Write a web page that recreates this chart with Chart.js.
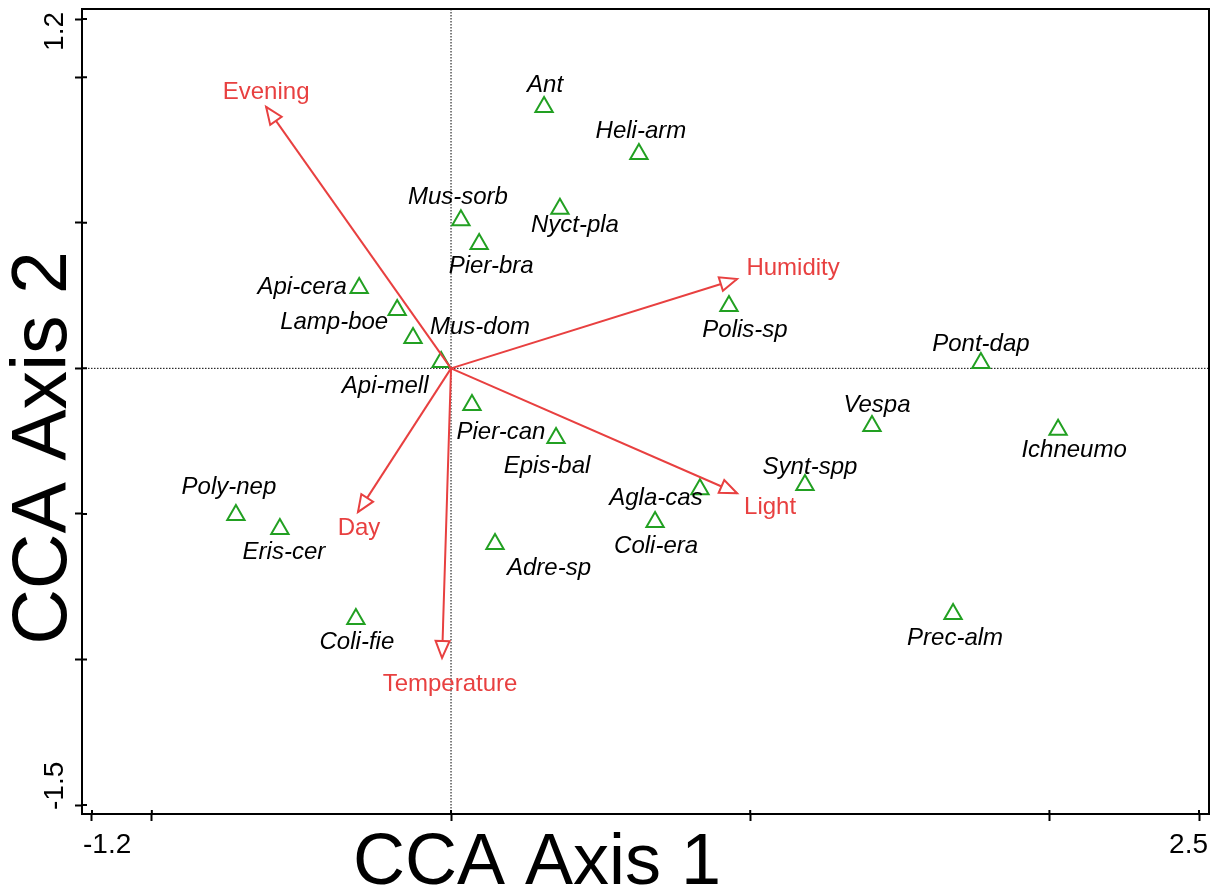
<!DOCTYPE html>
<html>
<head>
<meta charset="utf-8">
<title>CCA biplot</title>
<script src="https://cdn.jsdelivr.net/npm/chart.js@4.4.1/dist/chart.umd.min.js"></script>
<style>
  html, body { margin: 0; padding: 0; background: #fff; }
  #wrap { width: 1214px; height: 890px; }
</style>
</head>
<body>
<div id="wrap"><canvas id="ccaChart"></canvas></div>
<script>
// species scores
const speciesNames = ['Ant', 'Heli-arm', 'Mus-sorb', 'Nyct-pla', 'Pier-bra', 'Api-cera', 'Lamp-boe', 'Mus-dom',
    'Api-mell', 'Polis-sp', 'Pont-dap', 'Vespa', 'Ichneumo', 'Pier-can', 'Epis-bal', 'Synt-spp', 'Agla-cas',
    'Coli-era', 'Poly-nep', 'Eris-cer', 'Adre-sp', 'Coli-fie', 'Prec-alm'];
const speciesAxis1 = [0.311, 0.628, 0.033, 0.364, 0.094, -0.307, -0.180, -0.127, -0.033, 0.929, 1.771, 1.407,
    2.029, 0.070, 0.351, 1.183, 0.832, 0.682, -0.719, -0.572, 0.147, -0.318, 1.678];
const speciesAxis2 = [0.898, 0.736, 0.509, 0.548, 0.427, 0.276, 0.200, 0.104, 0.022, 0.214, 0.018, -0.198,
    -0.211, -0.126, -0.239, -0.401, -0.415, -0.528, -0.504, -0.552, -0.603, -0.861, -0.844];

// environmental vectors
const envNames = ['Evening', 'Humidity', 'Light', 'Day', 'Temperature'];
const envAxis1 = [-0.618, 0.956, 0.956, -0.311, -0.030];
const envAxis2 = [0.898, 0.307, -0.429, -0.494, -0.995];

// axis ticks
const xTicks = [-1.2, -1, 0, 1, 2, 2.5];
const yTicks = [-1.5, -1, -0.5, 0, 0.5, 1, 1.2];
const xTickLabels = ['-1.2', '2.5'];
const yTickLabels = ['1.2', '-1.5'];

const RED = 'rgb(232,64,64)';
const GREEN = 'rgb(34,160,34)';
const FONT = "'Liberation Sans', Arial, sans-serif";

// label placement around each mark (pixels)
const speciesLabelOffsets = [[1, -22], [2, -23], [-3, -23], [15, 17], [12, 22], [-57, -1], [-63, 12], [67, -11],
    [-56, 24], [16, 24], [0, -19], [5, -21], [16, 21], [29, 27], [-9, 28], [5, -18], [-44, 9], [1, 24],
    [-7, -28], [4, 23], [54, 24], [1, 23], [2, 24]];
const envLabelOffsets = [[0, -15], [56, -11], [33, 14], [1, 16], [8, 26]];

const arrowDatasets = envNames.map((name, i) => ({
    label: name,
    data: [{x: 0, y: 0}, {x: envAxis1[i], y: envAxis2[i]}],
    showLine: true,
    borderColor: RED,
    borderWidth: 2,
    pointRadius: 0
}));

const speciesDataset = {
    label: 'Species',
    data: speciesNames.map((n, i) => ({x: speciesAxis1[i], y: speciesAxis2[i]})),
    pointStyle: 'triangle',
    radius: 10,
    borderColor: GREEN,
    backgroundColor: 'rgba(0,0,0,0)',
    borderWidth: 2
};

const ccaDecor = {
    id: 'ccaDecor',
    beforeDatasetsDraw(chart) {
        const {ctx, chartArea: a, scales: {x, y}} = chart;
        const x0 = x.getPixelForValue(0);
        const y0 = y.getPixelForValue(0);
        ctx.save();
        ctx.strokeStyle = '#000';
        ctx.lineWidth = 1;
        ctx.setLineDash([1.5, 1.5]);
        ctx.beginPath();
        ctx.moveTo(x0, a.top);
        ctx.lineTo(x0, a.bottom);
        ctx.moveTo(a.left, y0);
        ctx.lineTo(a.right, y0);
        ctx.stroke();
        ctx.restore();
    },
    afterDatasetsDraw(chart) {
        const {ctx, scales: {x, y}} = chart;
        const ox = x.getPixelForValue(0);
        const oy = y.getPixelForValue(0);
        ctx.save();

        // open arrowheads
        ctx.strokeStyle = RED;
        ctx.fillStyle = '#fff';
        ctx.lineWidth = 2;
        envNames.forEach((name, i) => {
            const tx = x.getPixelForValue(envAxis1[i]);
            const ty = y.getPixelForValue(envAxis2[i]);
            const ang = Math.atan2(ty - oy, tx - ox);
            const bx = tx - 17 * Math.cos(ang);
            const by = ty - 17 * Math.sin(ang);
            const px = -Math.sin(ang) * 7;
            const py = Math.cos(ang) * 7;
            ctx.beginPath();
            ctx.moveTo(tx, ty);
            ctx.lineTo(bx + px, by + py);
            ctx.lineTo(bx - px, by - py);
            ctx.closePath();
            ctx.fill();
            ctx.stroke();
        });

        ctx.textAlign = 'center';
        ctx.textBaseline = 'middle';

        ctx.fillStyle = RED;
        ctx.font = '24px ' + FONT;
        envNames.forEach((name, i) => {
            const tx = x.getPixelForValue(envAxis1[i]);
            const ty = y.getPixelForValue(envAxis2[i]);
            ctx.fillText(name, tx + envLabelOffsets[i][0], ty + envLabelOffsets[i][1]);
        });

        ctx.fillStyle = '#000';
        ctx.font = 'italic 24px ' + FONT;
        speciesNames.forEach((name, i) => {
            const px = x.getPixelForValue(speciesAxis1[i]);
            const py = y.getPixelForValue(speciesAxis2[i]);
            ctx.fillText(name, px + speciesLabelOffsets[i][0], py + speciesLabelOffsets[i][1]);
        });
        ctx.restore();
    },
    afterDraw(chart) {
        const {ctx, chartArea: a, scales: {x, y}} = chart;
        ctx.save();
        ctx.strokeStyle = '#000';
        ctx.lineWidth = 2;
        ctx.strokeRect(a.left, a.top, a.right - a.left, a.bottom - a.top);

        // tick marks cross the frame a little
        ctx.beginPath();
        xTicks.forEach(v => {
            const px = x.getPixelForValue(v);
            ctx.moveTo(px, a.bottom);
            ctx.lineTo(px, a.bottom - 4);
        });
        yTicks.forEach(v => {
            const py = y.getPixelForValue(v);
            ctx.moveTo(a.left, py);
            ctx.lineTo(a.left + 5, py);
        });
        ctx.stroke();

        ctx.fillStyle = '#000';
        ctx.font = '28px ' + FONT;
        ctx.textBaseline = 'alphabetic';
        ctx.textAlign = 'left';
        ctx.fillText(xTickLabels[0], x.getPixelForValue(parseFloat(xTickLabels[0])) - 9, a.bottom + 39);
        ctx.textAlign = 'right';
        ctx.fillText(xTickLabels[1], x.getPixelForValue(parseFloat(xTickLabels[1])) + 9, a.bottom + 39);

        ctx.save();
        ctx.translate(a.left - 19, y.getPixelForValue(parseFloat(yTickLabels[0])) - 7);
        ctx.rotate(-Math.PI / 2);
        ctx.textAlign = 'right';
        ctx.fillText(yTickLabels[0], 0, 0);
        ctx.restore();
        ctx.save();
        ctx.translate(a.left - 19, y.getPixelForValue(parseFloat(yTickLabels[1])) + 5);
        ctx.rotate(-Math.PI / 2);
        ctx.textAlign = 'left';
        ctx.fillText(yTickLabels[1], 0, 0);
        ctx.restore();

        // axis titles
        ctx.textAlign = 'center';
        ctx.font = '72px ' + FONT;
        ctx.fillText('CCA Axis 1', a.left + 455, a.bottom + 70);
        ctx.save();
        ctx.translate(a.left - 16, a.top + 439);
        ctx.rotate(-Math.PI / 2);
        ctx.font = '77px ' + FONT;
        ctx.fillText('CCA Axis 2', 0, 0);
        ctx.restore();
        ctx.restore();
    }
};

new Chart(document.getElementById('ccaChart'), {
    type: 'scatter',
    data: {
        datasets: [...arrowDatasets, speciesDataset]
    },
    options: {
        responsive: true,
        maintainAspectRatio: false,
        animation: false,
        layout: {
            autoPadding: false,
            padding: {left: 75, right: 5, top: 9, bottom: 69}
        },
        plugins: {
            legend: {display: false},
            tooltip: {enabled: false}
        },
        scales: {
            x: {
                type: 'linear',
                min: -1.2334,
                max: 2.5334,
                afterBuildTicks: scale => { scale.ticks = xTicks.map(v => ({value: v})); },
                ticks: {display: false},
                grid: {drawOnChartArea: false, drawTicks: true, tickLength: 7, tickWidth: 2, color: '#000'},
                border: {display: false}
            },
            y: {
                type: 'linear',
                min: -1.5309,
                max: 1.2344,
                afterBuildTicks: scale => { scale.ticks = yTicks.map(v => ({value: v})); },
                ticks: {display: false},
                grid: {drawOnChartArea: false, drawTicks: true, tickLength: 7, tickWidth: 2, color: '#000'},
                border: {display: false}
            }
        }
    },
    plugins: [ccaDecor]
});
</script>
</body>
</html>
